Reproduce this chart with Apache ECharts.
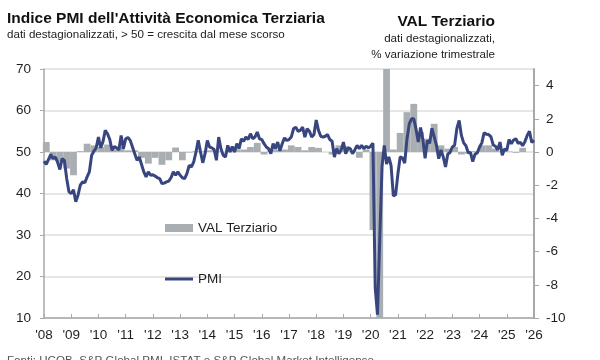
<!DOCTYPE html>
<html><head><meta charset="utf-8">
<script src="https://cdn.jsdelivr.net/npm/echarts@6/dist/echarts.min.js"></script>
<style>html,body{margin:0;padding:0;background:#fff}#c{width:600px;height:360px}</style>
</head><body><div id="c"></div>
<script>
const startYear = 2008;
const xTickLabels = ["'08","'09","'10","'11","'12","'13","'14","'15","'16","'17","'18","'19","'20","'21","'22","'23","'24","'25","'26"];
const leftTicks = [10, 20, 30, 40, 50, 60, 70];
const rightTicks = [-10, -8, -6, -4, -2, 0, 2, 4];

// PMI servizi, mensile (gen 2008 - gen 2026)
const pmi2008 = [47.8, 47.0, 48.2, 49.4, 48.4, 48.8, 47.5, 45.8, 48.4, 47.9, 43.6, 40.4];
const pmi2009 = [40.0, 40.9, 38.0, 39.6, 42.0, 42.8, 42.6, 44.0, 45.2, 49.2, 50.2, 51.0];
const pmi2010 = [53.6, 51.0, 52.5, 55.2, 54.4, 53.0, 50.4, 51.3, 51.0, 50.5, 54.0, 50.8];
const pmi2011 = [53.2, 53.5, 52.8, 51.2, 49.6, 48.0, 48.8, 47.0, 45.2, 44.0, 45.2, 44.4];
const pmi2012 = [44.5, 44.2, 43.8, 43.6, 42.4, 42.5, 42.8, 43.0, 43.8, 45.2, 44.4, 45.2];
const pmi2013 = [44.4, 43.8, 43.6, 44.8, 46.8, 46.4, 47.6, 50.0, 52.8, 50.0, 47.4, 49.6];
const pmi2014 = [52.8, 51.2, 51.0, 50.6, 48.0, 53.6, 50.8, 49.2, 48.8, 51.6, 50.0, 51.3];
const pmi2015 = [50.0, 52.0, 50.8, 53.2, 52.6, 53.6, 53.0, 54.4, 53.2, 53.6, 54.8, 53.2];
const pmi2016 = [53.0, 52.0, 51.2, 50.8, 49.6, 52.0, 50.8, 52.4, 50.3, 52.0, 53.4, 52.8];
const pmi2017 = [53.0, 53.6, 55.6, 56.0, 55.0, 55.2, 56.0, 53.6, 55.6, 55.0, 53.6, 54.2];
const pmi2018 = [57.7, 55.2, 53.8, 53.6, 53.8, 54.2, 53.0, 52.6, 48.8, 50.8, 49.6, 50.5];
const pmi2019 = [52.4, 49.6, 51.0, 50.8, 49.6, 50.5, 51.6, 50.8, 51.6, 50.8, 51.4, 51.0];
const pmi2020 = [51.4, 52.1, 17.4, 10.8, 28.9, 46.4, 51.6, 47.1, 48.8, 46.7, 39.4, 39.7];
const pmi2021 = [44.7, 48.8, 48.6, 47.3, 53.1, 56.7, 58.0, 58.0, 55.5, 52.4, 55.9, 53.0];
const pmi2022 = [48.5, 52.8, 52.1, 55.7, 53.7, 51.6, 48.4, 50.5, 48.8, 46.4, 49.5, 49.9];
const pmi2023 = [51.2, 51.6, 55.7, 57.6, 54.0, 52.2, 51.5, 49.8, 49.9, 47.7, 49.5, 49.8];
const pmi2024 = [51.2, 52.2, 54.6, 54.3, 54.2, 53.7, 51.7, 51.4, 50.5, 52.4, 49.2, 50.7];
const pmi2025 = [50.4, 53.0, 52.0, 52.9, 53.2, 52.1, 52.3, 51.5, 52.5, 54.0, 55.0, 52.3];
const pmi2026 = [52.8];

// VAL Terziario, % var. trimestrale (T1 2008 - T3 2025)
const val2008 = [0.6, -0.5, -0.6, -1.0];
const val2009 = [-1.4, 0.05, 0.5, 0.4];
const val2010 = [0.3, 0.45, 0.15, 0.3];
const val2011 = [0.1, 0.1, -0.35, -0.7];
const val2012 = [-0.35, -0.77, -0.5, 0.27];
const val2013 = [-0.5, -0.03, 0.05, 0.05];
const val2014 = [0.1, 0.05, 0.0, 0.1];
const val2015 = [0.15, 0.15, 0.3, 0.55];
const val2016 = [-0.15, 0.15, 0.15, 0.15];
const val2017 = [0.4, 0.3, 0.1, 0.3];
const val2018 = [0.25, 0.0, -0.15, 0.4];
const val2019 = [0.35, 0.05, -0.35, 0.15];
const val2020 = [-4.7, -13.0, 13.0, 0.15];
const val2021 = [1.15, 2.4, 2.9, 1.2];
const val2022 = [0.8, 1.7, 0.4, 0.2];
const val2023 = [0.3, -0.15, -0.1, 0.05];
const val2024 = [0.4, 0.4, 0.2, 0.05];
const val2025 = [0.03, -0.05, 0.25];

const pmiValues = [].concat(pmi2008, pmi2009, pmi2010, pmi2011, pmi2012, pmi2013, pmi2014, pmi2015, pmi2016, pmi2017, pmi2018, pmi2019, pmi2020, pmi2021, pmi2022, pmi2023, pmi2024, pmi2025, pmi2026);
const valValues = [].concat(val2008, val2009, val2010, val2011, val2012, val2013, val2014, val2015, val2016, val2017, val2018, val2019, val2020, val2021, val2022, val2023, val2024, val2025);

const pmiData = pmiValues.map((v, i) => [startYear + i / 12, v]);
const valData = valValues.map((v, i) => [startYear + (3 * i + 1) / 12, v]);

const FONT = "'Liberation Sans', Arial, sans-serif";
const TXT = '#1f1f1f';
const AX = '#a8a8a8';

const chart = echarts.init(document.getElementById('c'), null, {renderer: 'canvas'});
chart.setOption({
  animation: false,
  backgroundColor: '#ffffff',
  textStyle: {fontFamily: FONT},
  title: [
    {text: "Indice PMI dell'Attività Economica Terziaria", left: 7, top: 11, padding: 0,
     textStyle: {fontSize: 15.5, fontWeight: 'bold', color: '#111', fontFamily: FONT}},
    {text: 'dati destagionalizzati, > 50 = crescita dal mese scorso', left: 7, top: 29, padding: 0,
     textStyle: {fontSize: 11.6, fontWeight: 'normal', color: '#222', fontFamily: FONT}},
    {text: 'VAL Terziario', right: 105, top: 14, padding: 0,
     textStyle: {fontSize: 15.5, fontWeight: 'bold', color: '#111', fontFamily: FONT}},
    {text: 'dati destagionalizzati,', right: 105, top: 33, padding: 0,
     textStyle: {fontSize: 11.6, fontWeight: 'normal', color: '#222', fontFamily: FONT}},
    {text: '% variazione trimestrale', right: 105, top: 49, padding: 0,
     textStyle: {fontSize: 11.6, fontWeight: 'normal', color: '#222', fontFamily: FONT}},
    {text: 'Fonti: HCOB, S&P Global PMI, ISTAT e S&P Global Market Intelligence', left: 7, top: 355, padding: 0,
     textStyle: {fontSize: 11.6, fontWeight: 'normal', color: '#555', fontFamily: FONT}}
  ],
  legend: [
    {data: [{name: 'VAL Terziario', icon: 'rect'}], left: 165, top: 221, padding: 0, itemWidth: 28, itemHeight: 8,
     selectedMode: false, textStyle: {fontSize: 13.5, color: TXT, fontFamily: FONT}},
    {data: [{name: 'PMI', icon: 'rect'}], left: 165, top: 272, padding: 0, itemWidth: 28, itemHeight: 3,
     selectedMode: false, textStyle: {fontSize: 13.5, color: TXT, fontFamily: FONT}}
  ],
  grid: {left: 44, right: 66, top: 69, bottom: 42, containLabel: false},
  xAxis: {
    type: 'value', min: 2008, max: 2026, interval: 1,
    axisLine: {onZero: false, lineStyle: {color: AX, width: 1.5}},
    axisTick: {inside: true, length: 4, lineStyle: {color: AX, width: 1}},
    axisLabel: {formatter: v => xTickLabels[Math.round(v) - startYear], fontSize: 13.5, color: TXT, margin: 10, fontFamily: FONT},
    splitLine: {show: false}
  },
  yAxis: [
    {type: 'value', min: 10, max: 70, interval: 10, position: 'left',
     axisLine: {show: true, onZero: false, lineStyle: {color: AX, width: 1.5}},
     axisTick: {show: true, length: 4, lineStyle: {color: AX}, customValues: leftTicks},
     axisLabel: {fontSize: 13.5, color: TXT, margin: 13, fontFamily: FONT, customValues: leftTicks},
     splitLine: {show: true, lineStyle: {color: '#dedede', width: 1.5}}},
    {type: 'value', min: -10, max: 5, position: 'right',
     axisLine: {show: true, onZero: false, lineStyle: {color: AX, width: 2}},
     axisTick: {show: true, length: 5, lineStyle: {color: AX}, customValues: rightTicks},
     axisLabel: {fontSize: 13.5, color: TXT, margin: 12, fontFamily: FONT, customValues: rightTicks},
     splitLine: {show: false}}
  ],
  series: [
    {name: 'VAL Terziario', type: 'bar', xAxisIndex: 0, yAxisIndex: 1, data: valData,
     barWidth: 6.8, itemStyle: {color: '#a9aeb3'}, z: 1, clip: true},
    {name: 'PMI', type: 'line', xAxisIndex: 0, yAxisIndex: 0, data: pmiData,
     showSymbol: false, symbol: 'none', color: '#38467f',
     itemStyle: {color: '#38467f'}, lineStyle: {color: '#38467f', width: 3}, z: 3, clip: true}
  ]
});
</script></body></html>
